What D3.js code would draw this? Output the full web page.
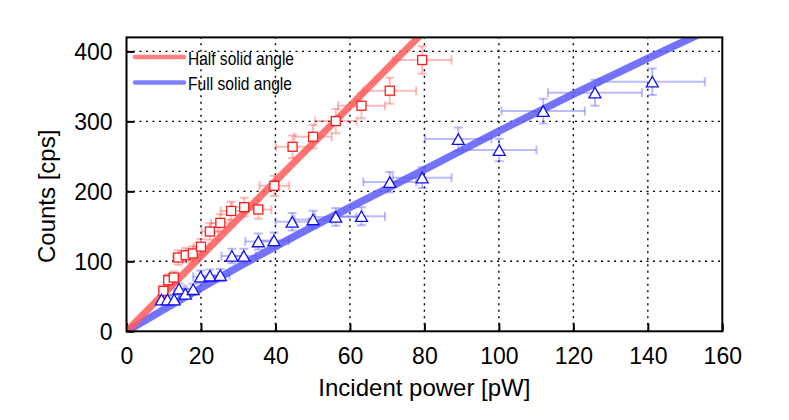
<!DOCTYPE html>
<html><head><meta charset="utf-8">
<script src="https://cdn.jsdelivr.net/npm/d3@7"></script>
<style>
html,body{margin:0;padding:0;background:#fff;}
text{font-family:"Liberation Sans",Arial,Helvetica,sans-serif;fill:#000;}
</style></head>
<body><svg id="c" width="789" height="420"></svg>
<script>
// ---- data ----
const xTicks = [0,20,40,60,80,100,120,140,160];
const yTicks = [0,100,200,300,400];
const seriesNames = ["Half solid angle","Full solid angle"];

const halfX    = [9.9,11.2,12.7,13.9,15.9,17.8,20.0,22.4,25.2,28.1,31.6,35.4,39.7,44.6,50.1,56.2,63.1,70.7,79.4];
const halfY    = [57.7,73.0,76.8,105.4,108.7,111.2,120.9,142.6,154.9,172.0,177.4,174.1,207.9,263.7,278.0,300.4,322.3,343.8,387.7];
const halfXErr = [1.0,1.1,1.3,1.4,1.6,1.8,2.0,2.2,2.5,2.8,3.2,3.5,4.0,4.5,5.0,5.6,6.3,7.1,7.9];
const halfYErr = [7.6,8.5,8.8,10.3,10.4,10.5,11.0,11.9,12.4,13.1,13.3,13.2,14.4,16.2,16.7,17.3,18.0,18.5,19.7];

const fullX    = [9.4,11.0,12.8,14.1,15.8,17.9,19.9,22.4,25.2,28.3,31.5,35.4,39.6,44.5,50.1,56.2,63.1,70.7,79.4,89.1,100.1,111.9,125.8,141.2];
const fullY    = [45.4,45.4,45.4,60.8,53.6,60.1,78.0,79.4,80.1,107.7,107.7,128.3,129.8,156.4,159.8,163.5,164.5,213.2,219.6,274.7,259.0,314.7,341.0,356.7];
const fullXErr = [0.9,1.1,1.3,1.4,1.6,1.8,2.0,2.2,2.5,2.8,3.2,3.5,4.0,4.5,5.0,5.6,6.3,7.1,7.9,8.9,10.0,11.2,12.6,14.1];
const fullYErr = [6.7,6.7,6.7,7.8,7.3,7.8,8.8,8.9,8.9,10.4,10.4,11.3,11.4,12.5,12.6,12.8,12.8,14.6,14.8,16.6,16.1,17.7,18.5,18.9];

// fitted curves
const halfFitX = [0,80];
const halfFitY = [0,429];
const fullFitX = [0,20,40,60,80,100,120,140,160];
const fullFitY = [0,62,121,177,231,286,339,390,440];

// ---- layout ----
const L=126.5, R=722.3, T=37.4, B=331.3;
const svg = d3.select("#c");
svg.append("rect").attr("width",789).attr("height",420).attr("fill","#fff");
const x = d3.scaleLinear().domain([0,160]).range([L,R]);
const y = d3.scaleLinear().domain([0,420]).range([B,T]);

svg.append("defs").append("clipPath").attr("id","clip")
  .append("rect").attr("x",L).attr("y",T).attr("width",R-L).attr("height",B-T);

// grid
const grid = svg.append("g").attr("stroke","#000").attr("stroke-width",1.4).attr("stroke-dasharray","2,4.5");
xTicks.filter(v=>v>0&&v<160).forEach(v=>grid.append("line").attr("x1",x(v)).attr("x2",x(v)).attr("y1",B).attr("y2",T));
yTicks.filter(v=>v>0).forEach(v=>grid.append("line").attr("x1",L).attr("x2",R).attr("y1",y(v)).attr("y2",y(v)));

// axes (ticks inward)
const xAxis = d3.axisBottom(x).tickValues(xTicks).tickSizeInner(-8).tickSizeOuter(0).tickPadding(16);
const yAxis = d3.axisLeft(y).tickValues(yTicks).tickSizeInner(-8).tickSizeOuter(0).tickPadding(14);
const gx = svg.append("g").attr("transform",`translate(0,${B})`).call(xAxis);
const gy = svg.append("g").attr("transform",`translate(${L},0)`).call(yAxis);
[gx,gy].forEach(g=>{
  g.select(".domain").remove();
  g.selectAll(".tick line").attr("stroke","#000").attr("stroke-width",2);
  g.selectAll(".tick text").attr("font-size",23).attr("font-family","Liberation Sans, Arial, sans-serif").attr("fill","#000");
});
gy.selectAll(".tick text").attr("dy","0.36em");

// data layer
const plot = svg.append("g").attr("clip-path","url(#clip)");

function errorBars(xs,ys,xe,ye,color){
  const g = plot.append("g").attr("stroke",color).attr("stroke-width",2).attr("fill","none");
  const cap=4.5;
  xs.forEach((xv,i)=>{
    const cx=x(xv), cy=y(ys[i]);
    const x0=x(xv-xe[i]), x1=x(xv+xe[i]);
    const y0=y(ys[i]-ye[i]), y1=y(ys[i]+ye[i]);
    g.append("line").attr("x1",x0).attr("x2",x1).attr("y1",cy).attr("y2",cy);
    g.append("line").attr("x1",x0).attr("x2",x0).attr("y1",cy-cap).attr("y2",cy+cap);
    g.append("line").attr("x1",x1).attr("x2",x1).attr("y1",cy-cap).attr("y2",cy+cap);
    g.append("line").attr("x1",cx).attr("x2",cx).attr("y1",y0).attr("y2",y1);
    g.append("line").attr("x1",cx-cap).attr("x2",cx+cap).attr("y1",y0).attr("y2",y0);
    g.append("line").attr("x1",cx-cap).attr("x2",cx+cap).attr("y1",y1).attr("y2",y1);
  });
}
errorBars(halfX,halfY,halfXErr,halfYErr,"rgba(255,60,60,0.35)");
errorBars(fullX,fullY,fullXErr,fullYErr,"rgba(60,60,255,0.35)");

const line = d3.line().x(d=>x(d[0])).y(d=>y(d[1])).curve(d3.curveMonotoneX);
plot.append("path").datum(fullFitX.map((v,i)=>[v,fullFitY[i]]))
  .attr("d",line).attr("fill","none").attr("stroke","rgba(90,90,255,0.85)").attr("stroke-width",7.5);
plot.append("path").datum(halfFitX.map((v,i)=>[v,halfFitY[i]]))
  .attr("d",line).attr("fill","none").attr("stroke","rgba(255,90,90,0.85)").attr("stroke-width",7);

// markers
const sq=9;
plot.append("g").selectAll("rect").data(halfX.map((v,i)=>[v,halfY[i]])).join("rect")
  .attr("x",d=>x(d[0])-sq/2).attr("y",d=>y(d[1])-sq/2).attr("width",sq).attr("height",sq)
  .attr("fill","#fff").attr("stroke","#ff1a1a").attr("stroke-width",1.3);
const tw=12, th=10.5;
plot.append("g").selectAll("path").data(fullX.map((v,i)=>[v,fullY[i]])).join("path")
  .attr("d",d=>{const cx=x(d[0]), cy=y(d[1]);
     return `M${cx-tw/2},${cy+th/2}L${cx+tw/2},${cy+th/2}L${cx},${cy-th/2}Z`;})
  .attr("fill","#fff").attr("stroke","#1010ee").attr("stroke-width",1.3);

// frame
svg.append("rect").attr("x",L).attr("y",T).attr("width",R-L).attr("height",B-T)
  .attr("fill","none").attr("stroke","#000").attr("stroke-width",2);

// legend
const legColors=["#ff8080","#8080ff"];
seriesNames.forEach((n,i)=>{
  const ly = 57 + i*25.5;
  svg.append("line").attr("x1",135).attr("x2",184).attr("y1",ly).attr("y2",ly)
    .attr("stroke",legColors[i]).attr("stroke-width",4.5).attr("stroke-linecap","round");
  svg.append("text").attr("x",188).attr("y",ly+7.5).attr("font-size",18.5)
    .attr("font-family","Liberation Sans Narrow, Arial Narrow, sans-serif")
    .attr("textLength", i===0?106:104).attr("lengthAdjust","spacingAndGlyphs")
    .text(n);
});

// axis titles
svg.append("text").attr("x",(L+R)/2).attr("y",396).attr("text-anchor","middle")
  .attr("font-size",24).text("Incident power [pW]");
svg.append("text").attr("transform",`translate(55,${(T+B)/2+12}) rotate(-90)`).attr("text-anchor","middle")
  .attr("font-size",24).text("Counts [cps]");
</script></body></html>
